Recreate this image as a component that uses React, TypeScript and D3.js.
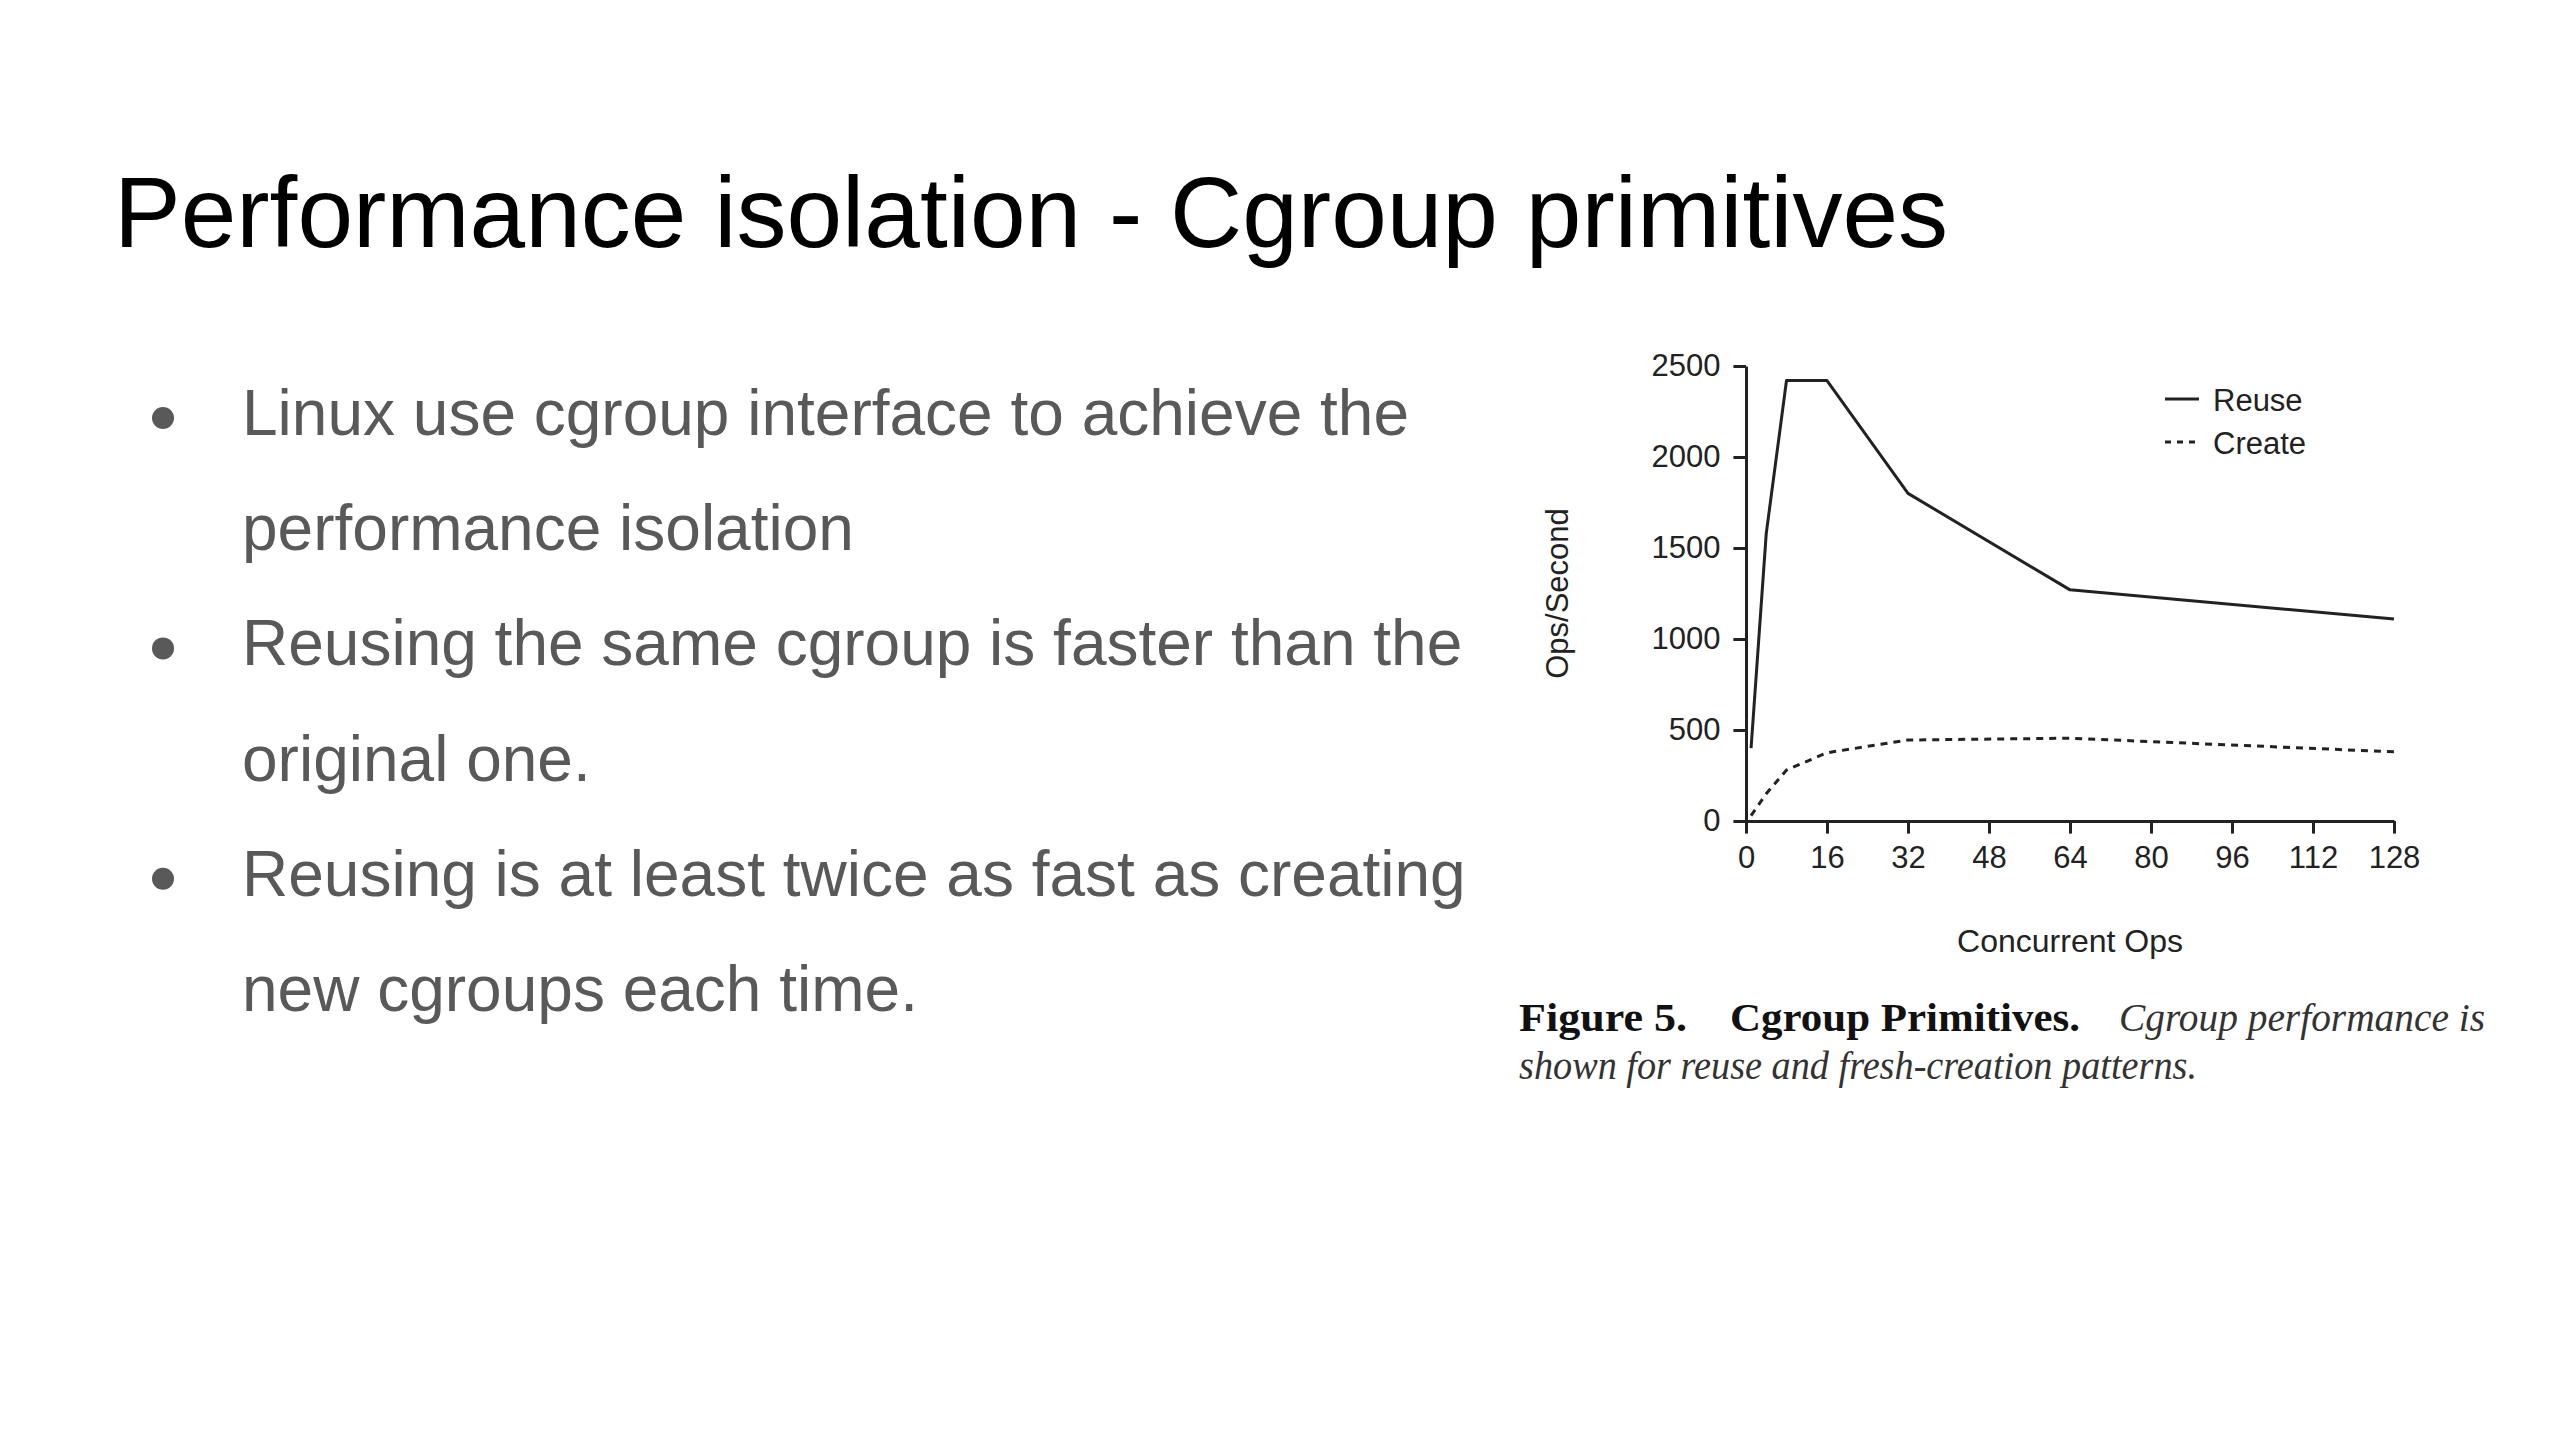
import * as d3 from 'd3'
import { useEffect, useRef } from 'react'

// chart data
const concurrentOps = [1, 4, 8, 16, 32, 64, 128]
const reuseOps = [400, 1580, 2420, 2420, 1800, 1270, 1110]
const createOps = [30, 150, 280, 375, 445, 455, 380]
const xTickValues = [0, 16, 32, 48, 64, 80, 96, 112, 128]
const yTickValues = [0, 500, 1000, 1500, 2000, 2500]
const seriesNames = ['Reuse', 'Create']

const bullets = [
  ['Linux use cgroup interface to achieve the', 'performance isolation'],
  ['Reusing the same cgroup is faster than the', 'original one.'],
  ['Reusing is at least twice as fast as creating', 'new cgroups each time.'],
]

const W = 2560
const H = 1440
const sans = '"Liberation Sans", Arial, Helvetica, sans-serif'
const serif = '"Liberation Serif", "Times New Roman", serif'
const ink = '#222'

const App = () => {
  const svgRef = useRef<SVGSVGElement>(null)

  useEffect(() => {
    const svg = d3.select(svgRef.current)
    svg.selectAll('.chart').remove()
    const g = svg.append('g').classed('chart', true)

    // plot area
    const x = d3.scaleLinear().domain([0, 128]).range([1746, 2394])
    const y = d3.scaleLinear().domain([0, 2500]).range([821, 366])

    // x axis
    const xAxis = g
      .append('g')
      .attr('transform', `translate(0, ${y(0)})`)
      .call(d3.axisBottom(x).tickValues(xTickValues).tickSize(12.6).tickPadding(12).tickSizeOuter(0))
    xAxis.selectAll('path, line').attr('stroke', ink).attr('stroke-width', 3)
    xAxis.selectAll('text').attr('fill', ink).style('font-size', '31px').style('font-family', sans)

    // y axis
    const yAxis = g
      .append('g')
      .attr('transform', `translate(${x(0)}, 0)`)
      .call(
        d3
          .axisLeft(y)
          .tickValues(yTickValues)
          .tickFormat(d3.format('d'))
          .tickSize(12.6)
          .tickPadding(13)
          .tickSizeOuter(0)
      )
    yAxis.selectAll('path, line').attr('stroke', ink).attr('stroke-width', 3)
    yAxis.selectAll('text').attr('fill', ink).style('font-size', '31px').style('font-family', sans)

    // axis titles
    g.append('text')
      .attr('x', (x(0) + x(128)) / 2)
      .attr('y', 952)
      .attr('text-anchor', 'middle')
      .attr('fill', ink)
      .style('font-size', '32px')
      .style('font-family', sans)
      .text('Concurrent Ops')

    g.append('text')
      .attr('transform', `translate(1568, ${(y(0) + y(2500)) / 2}) rotate(-90)`)
      .attr('text-anchor', 'middle')
      .attr('fill', ink)
      .style('font-size', '31px')
      .style('font-family', sans)
      .text('Ops/Second')

    // lines
    const line = d3
      .line<number>()
      .x((_, i) => x(concurrentOps[i]))
      .y((d) => y(d))

    g.append('path')
      .attr('d', line(reuseOps))
      .attr('fill', 'none')
      .attr('stroke', ink)
      .attr('stroke-width', 3)
      .attr('stroke-linejoin', 'round')

    g.append('path')
      .attr('d', line(createOps))
      .attr('fill', 'none')
      .attr('stroke', ink)
      .attr('stroke-width', 3)
      .attr('stroke-dasharray', '7,6')

    // legend
    const legend = g.append('g').attr('transform', 'translate(2165, 399)')
    seriesNames.forEach((name, i) => {
      legend
        .append('line')
        .attr('x1', 0)
        .attr('x2', 34)
        .attr('y1', i * 43)
        .attr('y2', i * 43)
        .attr('stroke', ink)
        .attr('stroke-width', 3)
        .attr('stroke-dasharray', i === 1 ? '6,6' : null)
      legend
        .append('text')
        .attr('x', 48)
        .attr('y', i * 43 + 11.5)
        .attr('fill', ink)
        .style('font-size', '31px')
        .style('font-family', sans)
        .text(name)
    })
  }, [])

  return (
    <div style={{ position: 'absolute', left: 0, top: 0, width: W, height: H, background: '#fff' }}>
      <svg ref={svgRef} width={W} height={H} viewBox={`0 0 ${W} ${H}`}>
        <rect width={W} height={H} fill="#fff" />
        <text x={114} y={247} fontSize={100} fontFamily={sans} fill="#000">
          Performance isolation - Cgroup primitives
        </text>

        {bullets.map((lines, i) => (
          <g key={i}>
            <circle cx={163} cy={418 + i * 230.4} r={11} fill="#595959" />
            {lines.map((t, j) => (
              <text key={j} x={242} y={435 + (i * 2 + j) * 115.2} fontSize={64} fontFamily={sans} fill="#595959">
                {t}
              </text>
            ))}
          </g>
        ))}

        {/* figure caption */}
        <g fontFamily={serif} fontSize={39} fill="#111">
          <text x={1519} y={1031} fontWeight="bold" textLength={168} lengthAdjust="spacingAndGlyphs">
            Figure 5.
          </text>
          <text x={1730} y={1031} fontWeight="bold" textLength={350} lengthAdjust="spacingAndGlyphs">
            Cgroup Primitives.
          </text>
          <text x={2119} y={1031} fontStyle="italic" fill="#333" textLength={366} lengthAdjust="spacingAndGlyphs">
            Cgroup performance is
          </text>
          <text x={1519} y={1079} fontStyle="italic" fill="#333" textLength={678} lengthAdjust="spacingAndGlyphs">
            shown for reuse and fresh-creation patterns.
          </text>
        </g>
      </svg>
    </div>
  )
}

export default App
